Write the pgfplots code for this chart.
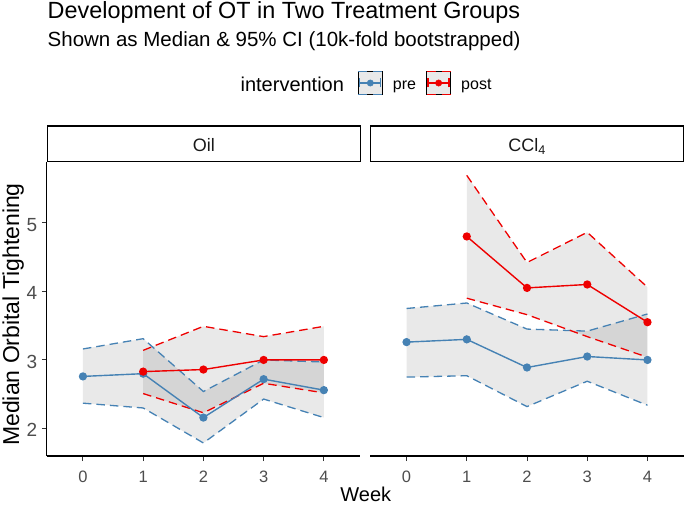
\documentclass[border=0pt]{standalone}
\usepackage{fontspec}
\setmainfont{Liberation Sans}
\usepackage{pgfplots}
\pgfplotsset{compat=1.18}
\definecolor{preC}{HTML}{4682B4}
\definecolor{postC}{HTML}{EE0000}
\definecolor{axtext}{HTML}{4D4D4D}
\newcommand\fs[1]{\fontsize{#1}{#1}\selectfont}
\newcommand\keycode[1]{%
  \fill[black, fill opacity=0.085] (0pt,-11.5pt) rectangle (24pt,11.5pt);
  \draw[#1, line width=1.2pt] (0pt,11.5pt) -- (9pt,11.5pt) (15pt,11.5pt) -- (24pt,11.5pt);
  \draw[#1, line width=1.2pt] (0pt,-11.5pt) -- (9pt,-11.5pt) (15pt,-11.5pt) -- (24pt,-11.5pt);
  \draw[#1, line width=1.3pt] (1.5pt,0pt) -- (22.5pt,0pt) (1.5pt,-4.5pt) -- (1.5pt,4.5pt) (22.5pt,-4.5pt) -- (22.5pt,4.5pt);
  \fill[#1] (12pt,0pt) circle (3.2pt);}
\pgfplotsset{
  panel/.style={
    scale only axis, width=313.2pt, height=294pt,
    xmin=-0.6, xmax=4.6, ymin=1.6, ymax=5.885,
    xtick={0,1,2,3,4}, ytick={2,3,4,5},
    axis x line*=bottom,
    axis line style={black, line width=1.1pt, -},
    tick align=outside, major tick length=5pt,
    tick style={black!80, line width=1pt},
    /pgf/number format/assume math mode=true,
    xticklabel style={font=\fs{16.5}, text=axtext, anchor=base, inner sep=0pt, yshift=-21.5pt},
    yticklabel style={font=\fs{19}, text=axtext, anchor=base east, inner sep=0pt, xshift=-4.4pt, yshift=-8.3pt},
  },
  ribbon/.style={draw=none, fill=black, fill opacity=0.085, forget plot},
  ci/.style={line width=1.3pt, dash pattern=on 8.5pt off 5pt, forget plot},
  med/.style={line width=1.4pt, mark=*, mark size=3.4pt, mark options={solid}, forget plot},
}
\begin{document}
\begin{tikzpicture}
\useasboundingbox (0,0) rectangle (685pt,-505pt);
% titles
\node[anchor=base west, inner sep=0pt] at (47.5pt,-19pt) {\fs{23.4}Development of OT in Two Treatment Groups};
\node[anchor=base west, inner sep=0pt] at (47.5pt,-46.7pt) {\fs{20.5}Shown as Median \& 95\% CI (10k-fold bootstrapped)};
\node[anchor=base west, inner sep=0pt] at (240.4pt,-91.5pt) {\fs{20}intervention};
% left panel
\begin{axis}[panel, at={(46.8pt,-456pt)}, anchor=south west,
  axis y line*=left,
  legend style={at={(0.9927,1.2687)}, anchor=west, draw=none, fill=none,
    inner sep=0pt, outer sep=0pt, legend columns=2, column sep=10pt,
    nodes={inner sep=0pt, text height=14pt, text depth=0pt, font=\fs{16}}},
]
\addlegendimage{legend image code/.code={\keycode{preC}}}
\addlegendentry{pre}
\addlegendimage{legend image code/.code={\keycode{postC}}}
\addlegendentry{post}
% ribbons
\addplot[ribbon] coordinates {(0,3.16) (1,3.31) (2,2.54) (3,3.00) (4,2.97) (4,2.16) (3,2.43) (2,1.79) (1,2.30) (0,2.37)} -- cycle;
\addplot[ribbon] coordinates {(1,3.14) (2,3.49) (3,3.34) (4,3.49) (4,2.52) (3,2.66) (2,2.23) (1,2.51)} -- cycle;
% CI lines
\addplot[ci, preC] coordinates {(0,3.16) (1,3.31) (2,2.54) (3,3.00) (4,2.97)};
\addplot[ci, preC] coordinates {(0,2.37) (1,2.30) (2,1.79) (3,2.43) (4,2.16)};
\addplot[ci, postC] coordinates {(1,3.14) (2,3.49) (3,3.34) (4,3.49)};
\addplot[ci, postC] coordinates {(1,2.51) (2,2.23) (3,2.66) (4,2.52)};
% medians
\addplot[med, preC] coordinates {(0,2.76) (1,2.80) (2,2.16) (3,2.72) (4,2.56)};
\addplot[med, postC] coordinates {(1,2.83) (2,2.86) (3,3.00) (4,3.00)};
\end{axis}
% right panel
\begin{axis}[panel, at={(370.4pt,-456pt)}, anchor=south west,
  axis y line=none, yticklabels={}, ytick=\empty]
\addplot[ribbon] coordinates {(0,3.75) (1,3.83) (2,3.45) (3,3.42) (4,3.67) (4,2.34) (3,2.69) (2,2.32) (1,2.77) (0,2.75)} -- cycle;
\addplot[ribbon] coordinates {(1,5.69) (2,4.42) (3,4.86) (4,4.06) (4,3.04) (3,3.34) (2,3.66) (1,3.90)} -- cycle;
\addplot[ci, preC] coordinates {(0,3.75) (1,3.83) (2,3.45) (3,3.42) (4,3.67)};
\addplot[ci, preC] coordinates {(0,2.75) (1,2.77) (2,2.32) (3,2.69) (4,2.34)};
\addplot[ci, postC] coordinates {(1,5.69) (2,4.42) (3,4.86) (4,4.06)};
\addplot[ci, postC] coordinates {(1,3.90) (2,3.66) (3,3.34) (4,3.04)};
\addplot[med, preC] coordinates {(0,3.26) (1,3.30) (2,2.89) (3,3.05) (4,3.00)};
\addplot[med, postC] coordinates {(1,4.80) (2,4.05) (3,4.10) (4,3.55)};
\end{axis}
% strips
\draw[black, line width=1.1pt, fill=white] (47.3pt,-126pt) rectangle (360.3pt,-161.7pt);
\draw[black, line width=1.1pt, fill=white] (370.9pt,-126pt) rectangle (683.5pt,-161.7pt);
\node[anchor=base, inner sep=0pt, text=black!90] at (203.8pt,-151.5pt) {\fs{18}Oil};
\node[anchor=base, inner sep=0pt, text=black!90] at (527.2pt,-151.5pt) {\fs{18}CCl\textsubscript{4}};
% axis titles
\node[anchor=base, inner sep=0pt] at (365.8pt,-501.5pt) {\fs{20}Week};
\node[anchor=base, inner sep=0pt, rotate=90] at (19pt,-314.5pt) {\fs{23}Median Orbital Tightening};
\end{tikzpicture}
\end{document}
